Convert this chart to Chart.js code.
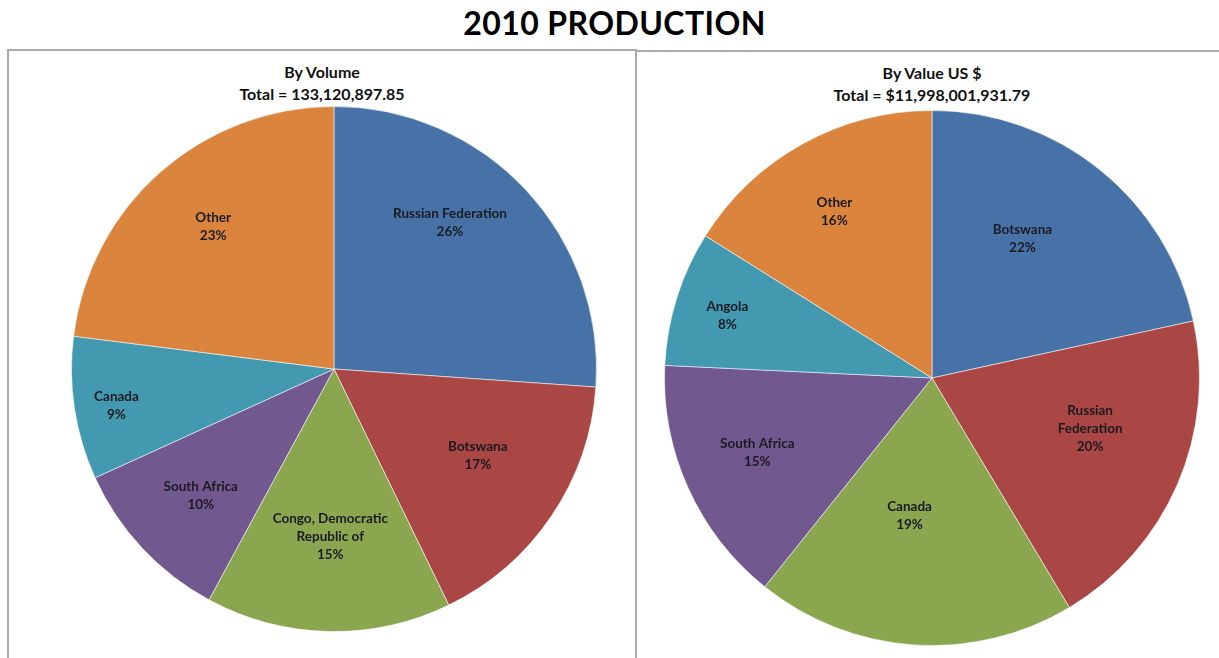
<!DOCTYPE html>
<html>
<head>
<meta charset="utf-8">
<script src="https://cdn.jsdelivr.net/npm/chart.js@4.4.1/dist/chart.umd.min.js"></script>
<style>
  html, body { margin: 0; padding: 0; background: #ffffff; }
  body { width: 1219px; height: 658px; position: relative; overflow: hidden; font-family: Lato, "Open Sans", sans-serif; }
  #mainTitle { position: absolute; left: 5px; top: 3px; width: 1219px; text-align: center; font: bold 32px Lato, sans-serif; color: #000; letter-spacing: 0.4px; }
  .panel { position: absolute; box-sizing: border-box; }
  #panelL { left: 7px; top: 49px; width: 630px; height: 720px; border: 2px solid #ababab; }
  #panelR { left: 637px; top: 50px; width: 700px; height: 720px; border-top: 2px solid #ababab; }
  .sub { position: absolute; width: 400px; text-align: center; font: bold 16px Lato, sans-serif; color: #111; line-height: 22px; }
  #subL { left: 122px; top: 61px; }
  #subR { left: 732px; top: 62px; }
  canvas { position: absolute; }
  #cL { left: 71px; top: 106px; }
  #cR { left: 664px; top: 110px; }
</style>
</head>
<body>
<div id="mainTitle">2010 PRODUCTION</div>
<div class="panel" id="panelL"></div>
<div class="panel" id="panelR"></div>
<div class="sub" id="subL"></div>
<div class="sub" id="subR"></div>
<canvas id="cL" width="526" height="526"></canvas>
<canvas id="cR" width="536" height="536"></canvas>
<script>
// ---- Data ----
const chartTitle = '2010 PRODUCTION';

const volumeTitle = ['By Volume', 'Total = 133,120,897.85'];
const volumeCategories = ['Russian Federation', 'Botswana', ['Congo, Democratic', 'Republic of'], 'South Africa', 'Canada', 'Other'];
const volumeValues = [34740000, 22230000, 20100000, 13710000, 11710000, 30620000];

const valueTitle = ['By Value US $', 'Total = $11,998,001,931.79'];
const valueCategories = ['Botswana', ['Russian', 'Federation'], 'Canada', 'South Africa', 'Angola', 'Other'];
const valueValues = [2590000000, 2380000000, 2320000000, 1800000000, 980000000, 1930000000];

// ---- Styles ----
const sliceColors = ['#4672A8', '#AA4644', '#8AA64F', '#71588F', '#4399B0', '#DB843D'];
// label placement (fraction of radius, angular shift in degrees)
const volumeLabelFrac = [0.71, 0.64, 0.64, 0.70, 0.84, 0.71];
const volumeLabelShift = [-8.5, -2.9, 0, -0.5, -0.8, 1.0];
const valueLabelFrac = [0.62, 0.62, 0.52, 0.71, 0.80, 0.72];
const valueLabelShift = [-5.8, -5.8, 5.4, 1.2, -0.4, -1.5];

document.getElementById('mainTitle').textContent = chartTitle;
document.getElementById('subL').innerHTML = volumeTitle.join('<br>');
document.getElementById('subR').innerHTML = valueTitle.join('<br>');

const sliceLabels = {
  id: 'sliceLabels',
  afterDatasetsDraw(chart, args, opts) {
    const ctx = chart.ctx;
    const meta = chart.getDatasetMeta(0);
    const data = chart.data.datasets[0].data;
    const total = data.reduce((a, b) => a + b, 0);
    ctx.save();
    ctx.font = 'bold 13.5px Lato, sans-serif';
    ctx.fillStyle = '#1b1b22';
    ctx.textAlign = 'center';
    ctx.textBaseline = 'middle';
    meta.data.forEach((arc, i) => {
      const p = arc.getProps(['x', 'y', 'startAngle', 'endAngle', 'outerRadius'], true);
      const mid = (p.startAngle + p.endAngle) / 2 + (opts.shift[i] || 0) * Math.PI / 180;
      const r = p.outerRadius * opts.frac[i];
      const cx = p.x + Math.cos(mid) * r;
      const cy = p.y + Math.sin(mid) * r;
      const lbl = chart.data.labels[i];
      const lines = (Array.isArray(lbl) ? lbl.slice() : [lbl]);
      lines.push(Math.round(data[i] / total * 100) + '%');
      const lh = 18;
      const y0 = cy - (lines.length - 1) * lh / 2;
      lines.forEach((t, k) => ctx.fillText(t, cx, y0 + k * lh));
    });
    ctx.restore();
  }
};

function makePie(id, labels, values, frac, shift) {
  return new Chart(document.getElementById(id), {
    type: 'pie',
    data: {
      labels: labels,
      datasets: [{
        data: values,
        backgroundColor: sliceColors,
        borderColor: 'rgba(255,255,255,0.55)',
        borderWidth: 1
      }]
    },
    options: {
      responsive: false,
      animation: false,
      layout: { padding: 0 },
      plugins: {
        legend: { display: false },
        tooltip: { enabled: false },
        title: { display: false },
        sliceLabels: { frac: frac, shift: shift }
      }
    },
    plugins: [sliceLabels]
  });
}

makePie('cL', volumeCategories, volumeValues, volumeLabelFrac, volumeLabelShift);
makePie('cR', valueCategories, valueValues, valueLabelFrac, valueLabelShift);
</script>
</body>
</html>
